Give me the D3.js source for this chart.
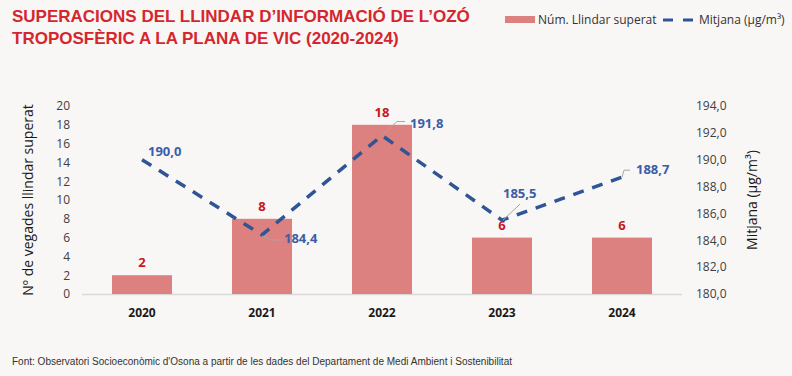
<!DOCTYPE html>
<html>
<head>
<meta charset="utf-8">
<script src="https://cdn.jsdelivr.net/npm/d3@7"></script>
<style>
  body { margin: 0; background: #f8f7f5; }
  svg { display: block; }
</style>
</head>
<body>
<div id="chart"></div>
<script>
let years    = ["2020", "2021", "2022", "2023", "2024"],
    counts   = [2, 8, 18, 6, 6],
    means    = [190.0, 184.4, 191.8, 185.5, 188.7],
    leftTicks  = [0, 2, 4, 6, 8, 10, 12, 14, 16, 18, 20],
    rightTicks = [180, 182, 184, 186, 188, 190, 192, 194];

// label offsets for the mean values (dx, dy from point, leader path)
let meanLabels = [
  {dx: 6,  dy: -4,  leader: null},
  {dx: 22, dy: 8,   leader: [[0, 1], [10, 5], [20, 5]]},
  {dx: 28, dy: -8,  leader: [[0, 0], [15, -14], [23, -14]]},
  {dx: 1,  dy: -22, leader: [[1, 0], [18, -16]]},
  {dx: 14, dy: -3,  leader: [[0, 0], [2, -7], [8, -7]]}
];

let width = 792, height = 376,
    margin = {top: 106, right: 110, bottom: 82, left: 82};

let svg = d3.select("#chart")
  .append("svg")
    .attr("width", width)
    .attr("height", height);

svg.append("rect")
    .attr("width", width)
    .attr("height", height)
    .attr("fill", "#f8f7f5");

let x = d3.scaleBand()
    .domain(years)
    .range([margin.left, width - margin.right])
    .paddingInner(0.5)
    .paddingOuter(0.25);

let yL = d3.scaleLinear()
    .domain([0, 20])
    .range([height - margin.bottom, margin.top]);

let yR = d3.scaleLinear()
    .domain([180, 194])
    .range([height - margin.bottom, margin.top]);

// title
svg.append("text")
    .attr("x", 12).attr("y", 22)
    .attr("font-family", "Liberation Sans, Arial, sans-serif")
    .attr("font-weight", "bold")
    .attr("font-size", 17)
    .attr("fill", "#d5262e")
    .selectAll("tspan")
    .data(["SUPERACIONS DEL LLINDAR D\u2019INFORMACIÓ DE L\u2019OZÓ",
           "TROPOSFÈRIC A LA PLANA DE VIC (2020-2024)"])
    .enter().append("tspan")
      .attr("x", 12)
      .attr("dy", (d, i) => i ? 22 : 0)
      .text(d => d);

// legend
let legend = svg.append("g")
    .attr("font-family", "Open Sans, sans-serif")
    .attr("font-size", 12)
    .attr("fill", "#333");

legend.append("rect")
    .attr("x", 505).attr("y", 16)
    .attr("width", 30).attr("height", 7)
    .attr("fill", "#dd8080");
legend.append("text")
    .attr("x", 538).attr("y", 24)
    .text("Núm. Llindar superat");
legend.append("line")
    .attr("x1", 663).attr("x2", 697)
    .attr("y1", 20).attr("y2", 20)
    .attr("stroke", "#2f5597")
    .attr("stroke-width", 3)
    .attr("stroke-dasharray", "10,10");
legend.append("text")
    .attr("x", 699).attr("y", 24)
    .text("Mitjana (µg/m³)");

// baseline
svg.append("line")
    .attr("x1", margin.left).attr("x2", width - margin.right)
    .attr("y1", yL(0) + 0.5).attr("y2", yL(0) + 0.5)
    .attr("stroke", "#d9d9d9")
    .attr("stroke-width", 1.5);

// left axis
let leftAxis = svg.append("g")
    .attr("transform", "translate(" + (margin.left - 12) + ",0)")
    .call(d3.axisLeft(yL).tickValues(leftTicks).tickSize(0).tickPadding(0));
leftAxis.select(".domain").remove();
leftAxis.selectAll("text")
    .attr("font-family", "Open Sans, sans-serif")
    .attr("font-size", 12)
    .attr("fill", "#404040");

// right axis
let rightAxis = svg.append("g")
    .attr("transform", "translate(" + (width - margin.right + 14) + ",0)")
    .call(d3.axisRight(yR).tickValues(rightTicks).tickSize(0).tickPadding(0)
      .tickFormat(d => d3.format(".1f")(d).replace(".", ",")));
rightAxis.select(".domain").remove();
rightAxis.selectAll("text")
    .attr("font-family", "Open Sans, sans-serif")
    .attr("font-size", 12)
    .attr("fill", "#404040");

// x axis
let xAxis = svg.append("g")
    .attr("transform", "translate(0," + (yL(0) + 8) + ")")
    .call(d3.axisBottom(x).tickSize(0).tickPadding(6));
xAxis.select(".domain").remove();
xAxis.selectAll("text")
    .attr("font-family", "Open Sans, sans-serif")
    .attr("font-weight", "bold")
    .attr("font-size", 12)
    .attr("fill", "#1a1a1a");

// axis titles
svg.append("text")
    .attr("transform", "translate(33," + ((yL(0) + yL(20)) / 2) + ") rotate(-90)")
    .attr("text-anchor", "middle")
    .attr("font-family", "Open Sans, sans-serif")
    .attr("font-size", 14)
    .attr("fill", "#1a1a1a")
    .text("Nº de vegades llindar superat");

svg.append("text")
    .attr("transform", "translate(757," + ((yR(180) + yR(194)) / 2) + ") rotate(-90)")
    .attr("text-anchor", "middle")
    .attr("font-family", "Open Sans, sans-serif")
    .attr("font-size", 14)
    .attr("fill", "#1a1a1a")
    .text("Mitjana (µg/m³)");

// bars
svg.selectAll(".bar")
  .data(counts)
  .enter().append("rect")
    .attr("class", "bar")
    .attr("x", (d, i) => x(years[i]))
    .attr("y", d => yL(d))
    .attr("width", x.bandwidth())
    .attr("height", d => yL(0) - yL(d))
    .attr("fill", "#dd8080");

svg.selectAll(".barlabel")
  .data(counts)
  .enter().append("text")
    .attr("class", "barlabel")
    .attr("x", (d, i) => x(years[i]) + x.bandwidth() / 2)
    .attr("y", d => yL(d) - 8)
    .attr("text-anchor", "middle")
    .attr("font-family", "Open Sans, sans-serif")
    .attr("font-weight", "bold")
    .attr("font-size", 13)
    .attr("fill", "#c8161d")
    .text(d => d);

// line
let cx = i => x(years[i]) + x.bandwidth() / 2;

let line = d3.line()
    .x((d, i) => cx(i))
    .y(d => yR(d));

svg.append("path")
    .datum(means)
    .attr("d", line)
    .attr("fill", "none")
    .attr("stroke", "#2f5597")
    .attr("stroke-width", 3.5)
    .attr("stroke-dasharray", "11,9");

// leader lines and mean labels
meanLabels.forEach(function(l, i) {
  let px = cx(i), py = yR(means[i]);
  if (l.leader) {
    svg.append("path")
        .attr("d", d3.line()(l.leader.map(p => [px + p[0], py + p[1]])))
        .attr("fill", "none")
        .attr("stroke", "#a6a6a6")
        .attr("stroke-width", 1);
  }
  svg.append("text")
      .attr("x", px + l.dx)
      .attr("y", py + l.dy)
      .attr("font-family", "Open Sans, sans-serif")
      .attr("font-weight", "bold")
      .attr("font-size", 13)
      .attr("fill", "#3a5ea5")
      .text(d3.format(".1f")(means[i]).replace(".", ","));
});

// source
svg.append("text")
    .attr("x", 12).attr("y", 365)
    .attr("font-family", "Liberation Sans, Arial, sans-serif")
    .attr("font-size", 10)
    .attr("textLength", 500)
    .attr("lengthAdjust", "spacingAndGlyphs")
    .attr("fill", "#333")
    .text("Font: Observatori Socioeconòmic d'Osona a partir de les dades del Departament de Medi Ambient i Sostenibilitat");
</script>
</body>
</html>
